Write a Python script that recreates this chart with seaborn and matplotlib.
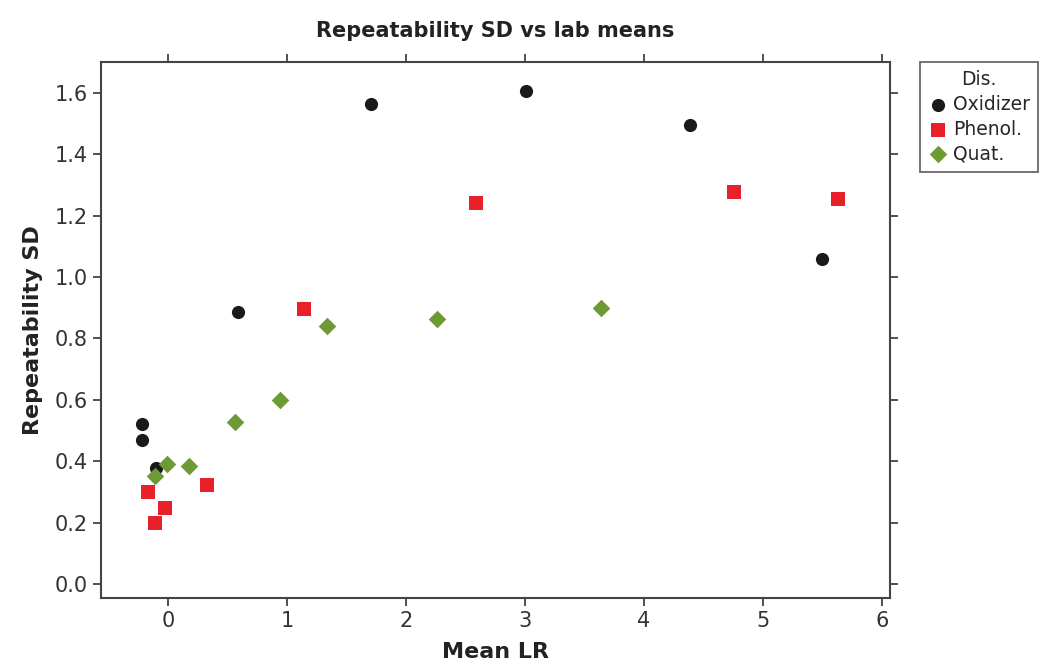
import pandas as pd
import matplotlib
matplotlib.use('Agg')
import matplotlib.pyplot as plt
import seaborn as sns

# values
oxidizer_x = [-0.22, -0.22, -0.10, 0.59, 1.71, 3.01, 4.39, 5.50]
oxidizer_y = [0.52, 0.47, 0.377, 0.885, 1.564, 1.607, 1.496, 1.06]
phenol_x = [-0.165, -0.025, -0.11, 0.33, 1.145, 2.59, 4.76, 5.63]
phenol_y = [0.298, 0.248, 0.20, 0.323, 0.897, 1.242, 1.278, 1.255]
quat_x = [-0.11, -0.01, 0.18, 0.56, 0.94, 1.34, 2.26, 3.64]
quat_y = [0.352, 0.392, 0.385, 0.528, 0.60, 0.839, 0.862, 0.898]

groups = ['Oxidizer', 'Phenol.', 'Quat.']
colors = {'Oxidizer': '#1a1a1a', 'Phenol.': '#e8202a', 'Quat.': '#6e9a34'}
markers = {'Oxidizer': 'o', 'Phenol.': 's', 'Quat.': 'D'}
sizes = {'Oxidizer': 90, 'Phenol.': 100, 'Quat.': 80}

df = pd.concat([
    pd.DataFrame({'Mean LR': oxidizer_x, 'Repeatability SD': oxidizer_y, 'Dis.': 'Oxidizer'}),
    pd.DataFrame({'Mean LR': phenol_x, 'Repeatability SD': phenol_y, 'Dis.': 'Phenol.'}),
    pd.DataFrame({'Mean LR': quat_x, 'Repeatability SD': quat_y, 'Dis.': 'Quat.'}),
], ignore_index=True)

sns.set_style('ticks')
plt.rcParams['font.family'] = ['DejaVu Sans']

fig = plt.figure(figsize=(10.45, 6.72), dpi=100)
ax = fig.add_axes([0.0967, 0.110, 0.755, 0.7977])

for g in groups:
    sub = df[df['Dis.'] == g]
    sns.scatterplot(data=sub, x='Mean LR', y='Repeatability SD', color=colors[g],
                    marker=markers[g], s=sizes[g], linewidth=0, label=g, ax=ax)

ax.set_xlim(-0.563, 6.07)
ax.set_ylim(-0.046, 1.70)
ax.set_xticks(range(0, 7))
ax.set_yticks([0.0, 0.2, 0.4, 0.6, 0.8, 1.0, 1.2, 1.4, 1.6])
ax.set_yticklabels([f'{v:.1f}' for v in ax.get_yticks()])
ax.tick_params(axis='both', direction='out', length=6, width=1.2, labelsize=15,
               top=True, right=True, color='#333333', labelcolor='#333333')
for sp in ax.spines.values():
    sp.set_linewidth(1.5)
    sp.set_color('#444444')

ax.set_xlabel('Mean LR', fontsize=16, fontweight='bold', color='#222222', labelpad=8)
ax.set_ylabel('Repeatability SD', fontsize=16, fontweight='bold', color='#222222', labelpad=8)
ax.set_title('Repeatability SD vs lab means', fontsize=15, fontweight='bold', color='#222222', pad=18)

leg = ax.legend(title='Dis.', loc='upper left', bbox_to_anchor=(1.038, 1.0), frameon=True,
                fontsize=13.5, title_fontsize=13.5, fancybox=False, edgecolor='#444444',
                handletextpad=0.3, borderpad=0.45, labelspacing=0.3, handlelength=1.0,
                borderaxespad=0)
leg.get_frame().set_linewidth(1.3)

fig.savefig('out.png', dpi=100)
